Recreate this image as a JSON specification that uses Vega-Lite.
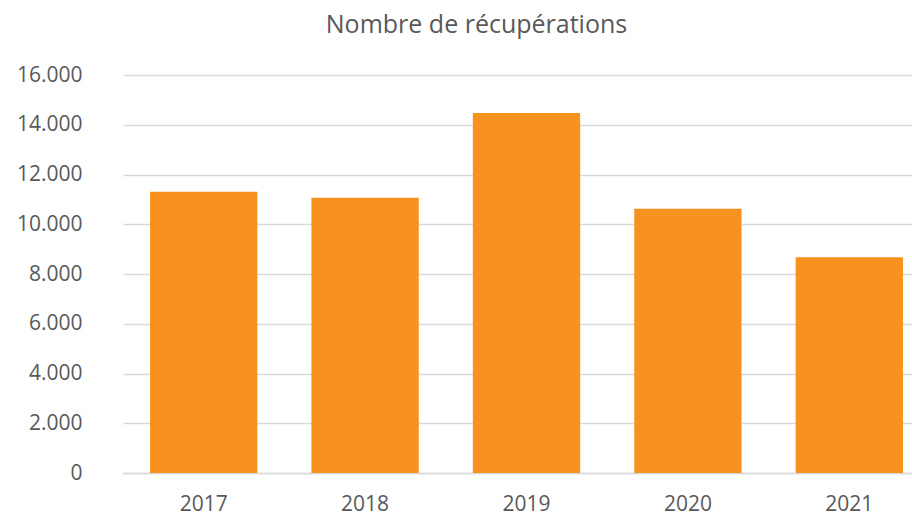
{
  "$schema": "https://vega.github.io/schema/vega-lite/v6.json",
  "autosize": "none",
  "width": 807,
  "height": 398,
  "padding": {"left": 123, "top": 75, "right": 0, "bottom": 42},
  "background": "white",
  "title": {
    "text": "Nombre de récupérations",
    "anchor": "middle",
    "dx": -50,
    "offset": 6,
    "baseline": "alphabetic",
    "fontSize": 25,
    "font": "Open Sans",
    "fontWeight": "normal",
    "color": "#595959"
  },
  "data": {
    "values": [
      {"year": "2017", "count": 11310},
      {"year": "2018", "count": 11070},
      {"year": "2019", "count": 14470},
      {"year": "2020", "count": 10620},
      {"year": "2021", "count": 8670}
    ]
  },
  "mark": {"type": "bar", "color": "#F8921F"},
  "encoding": {
    "x": {
      "field": "year",
      "type": "nominal",
      "scale": {"paddingInner": 0.335, "paddingOuter": 0.1675},
      "axis": {
        "title": null,
        "labelAngle": 0,
        "ticks": false,
        "domain": true,
        "domainColor": "#D9D9D9",
        "domainWidth": 1.5,
        "labelPadding": 20,
        "labelFontSize": 21,
        "labelFont": "Open Sans",
        "labelColor": "#595959"
      }
    },
    "y": {
      "field": "count",
      "type": "quantitative",
      "scale": {"domain": [0, 16000]},
      "axis": {
        "title": null,
        "values": [0, 2000, 4000, 6000, 8000, 10000, 12000, 14000, 16000],
        "format": ",d",
        "domain": false,
        "ticks": false,
        "grid": true,
        "gridColor": "#D9D9D9",
        "gridWidth": 1.5,
        "labelPadding": 41,
        "labelFontSize": 21,
        "labelFont": "Open Sans",
        "labelColor": "#595959"
      }
    }
  },
  "config": {
    "view": {"stroke": null},
    "locale": {
      "number": {"decimal": ",", "thousands": ".", "grouping": [3], "currency": ["", " €"]}
    }
  }
}
